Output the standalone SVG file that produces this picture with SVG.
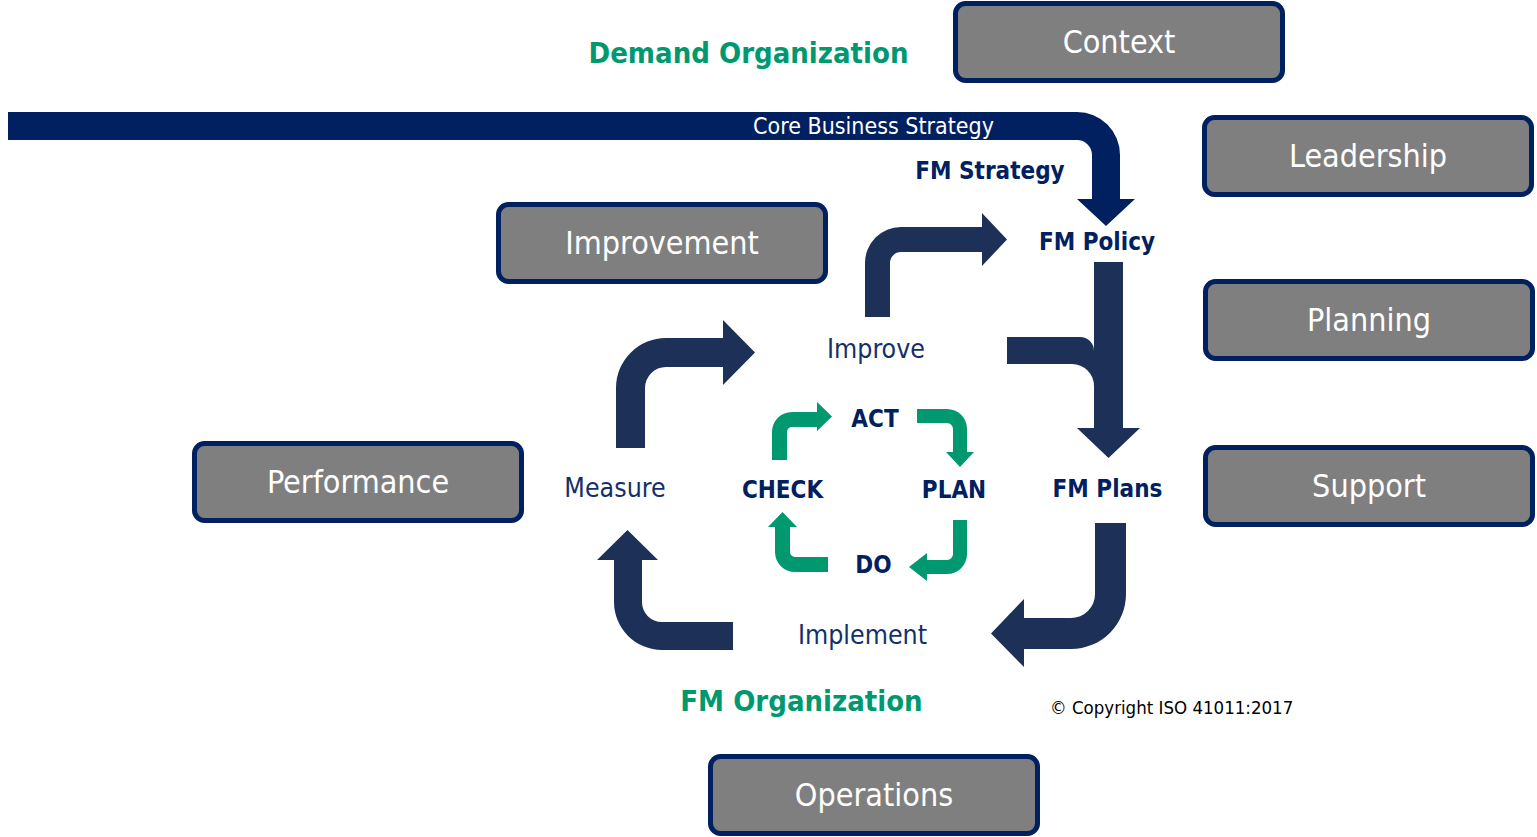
<svg xmlns="http://www.w3.org/2000/svg" width="1537" height="837" viewBox="0 0 1537 837">
<style>
text{font-family:"DejaVu Sans Condensed","DejaVu Sans","Open Sans",sans-serif;font-stretch:condensed}
.box rect{fill:#7f7f7f;stroke:#002060;stroke-width:5}
.box text{fill:#ffffff;font-size:32px;text-anchor:middle}
.navy{fill:#002060;text-anchor:middle}
.b{font-weight:bold;font-size:24px}
.r{font-size:26.5px;fill:#14306a}
.green{fill:#00996f;font-weight:bold;font-size:29px;text-anchor:middle}
.arr{fill:#1d3057}
.garr{fill:#00996f}
</style>
<rect width="1537" height="837" fill="#ffffff"/>
<g id="connectors">
<path id="core-bar" fill="#002060" d="M8,112 H1077 A43,43 0 0 1 1120,155 V199 H1135 L1106,226 L1077,199 H1092 V155 A15,15 0 0 0 1077,140 H8 Z"/>
<path class="arr" d="M865,317 V263 A36,36 0 0 1 901,227 H982 V213 L1007,239.5 L982,266 V252 H901 A11,11 0 0 0 890,263 V317 Z"/>
<path class="arr" d="M1094,262 H1123 V428 H1140 L1108.5,458 L1077,428 H1094 Z"/>
<path class="arr" d="M1007,337 H1080 A14,14 0 0 1 1094,351 V386 A22,22 0 0 0 1072,364 H1007 Z"/>
<path class="arr" d="M616,448 V388 A50,50 0 0 1 666,338 H723 V320 L755,352.5 L723,385 V367 H666 A21,21 0 0 0 645,388 V448 Z"/>
<path class="arr" d="M733,650 H662 A48,48 0 0 1 614,602 V560 H597 L627.5,530 L658,560 H642 V602 A20,20 0 0 0 662,622 H733 Z"/>
<path class="arr" d="M1095,523 H1126 V594 A55,55 0 0 1 1071,649 H1024 V667 L991,633.5 L1024,599 V618 H1071 A24,24 0 0 0 1095,594 Z"/>
<path class="garr" d="M772,460 V432 A20,20 0 0 1 792,412 H817 V402 L832,416.5 L817,431 V427 H792 A5,5 0 0 0 787,432 V460 Z"/>
<path class="garr" d="M917,409 H947 A20,20 0 0 1 967,429 V452 H974 L960,467 L946,452 H953 V429 A6,6 0 0 0 947,423 H917 Z"/>
<path class="garr" d="M953,520 H967 V554 A20,20 0 0 1 947,574 H927 V581 L909,567 L927,553 V560 H947 A6,6 0 0 0 953,554 Z"/>
<path class="garr" d="M828,572 H795 A20,20 0 0 1 775,552 V527 H768 L782.5,512 L797,527 H790 V552 A5,5 0 0 0 795,557 H828 Z"/>
<text x="873.5" y="134" fill="#ffffff" font-size="23" text-anchor="middle">Core Business Strategy</text>
</g>
<g id="context" class="box"><rect x="955.5" y="3.5" width="327" height="77" rx="10"/><text x="1119" y="53">Context</text></g>
<g id="leadership" class="box"><rect x="1204.5" y="117.5" width="327" height="77" rx="10"/><text x="1368" y="167">Leadership</text></g>
<g id="improvement" class="box"><rect x="498.5" y="204.5" width="327" height="77" rx="10"/><text x="662" y="254">Improvement</text></g>
<g id="planning" class="box"><rect x="1205.5" y="281.5" width="327" height="77" rx="10"/><text x="1369" y="331">Planning</text></g>
<g id="performance" class="box"><rect x="194.5" y="443.5" width="327" height="77" rx="10"/><text x="358" y="493">Performance</text></g>
<g id="support" class="box"><rect x="1205.5" y="447.5" width="327" height="77" rx="10"/><text x="1369" y="497">Support</text></g>
<g id="operations" class="box"><rect x="710.5" y="756.5" width="327" height="77" rx="10"/><text x="874" y="806">Operations</text></g>
<g id="demand-organization"><text class="green" x="748.5" y="63">Demand Organization</text></g>
<g id="fm-organization"><text class="green" x="801.5" y="711">FM Organization</text></g>
<g id="fm-strategy"><text class="navy b" x="990" y="179">FM Strategy</text></g>
<g id="fm-policy"><text class="navy b" x="1097" y="250">FM Policy</text></g>
<g id="fm-plans"><text class="navy b" x="1107.5" y="497">FM Plans</text></g>
<g id="improve"><text class="navy r" x="876" y="358">Improve</text></g>
<g id="measure"><text class="navy r" x="615" y="497">Measure</text></g>
<g id="implement"><text class="navy r" x="862.5" y="644">Implement</text></g>
<g id="act"><text class="navy b" x="875" y="427">ACT</text></g>
<g id="check"><text class="navy b" x="782.5" y="498">CHECK</text></g>
<g id="plan"><text class="navy b" x="954" y="498">PLAN</text></g>
<g id="do"><text class="navy b" x="873.5" y="573">DO</text></g>
<g id="copyright"><text x="1050" y="714" font-size="18.5" fill="#000000">© Copyright ISO 41011:2017</text></g>
</svg>
